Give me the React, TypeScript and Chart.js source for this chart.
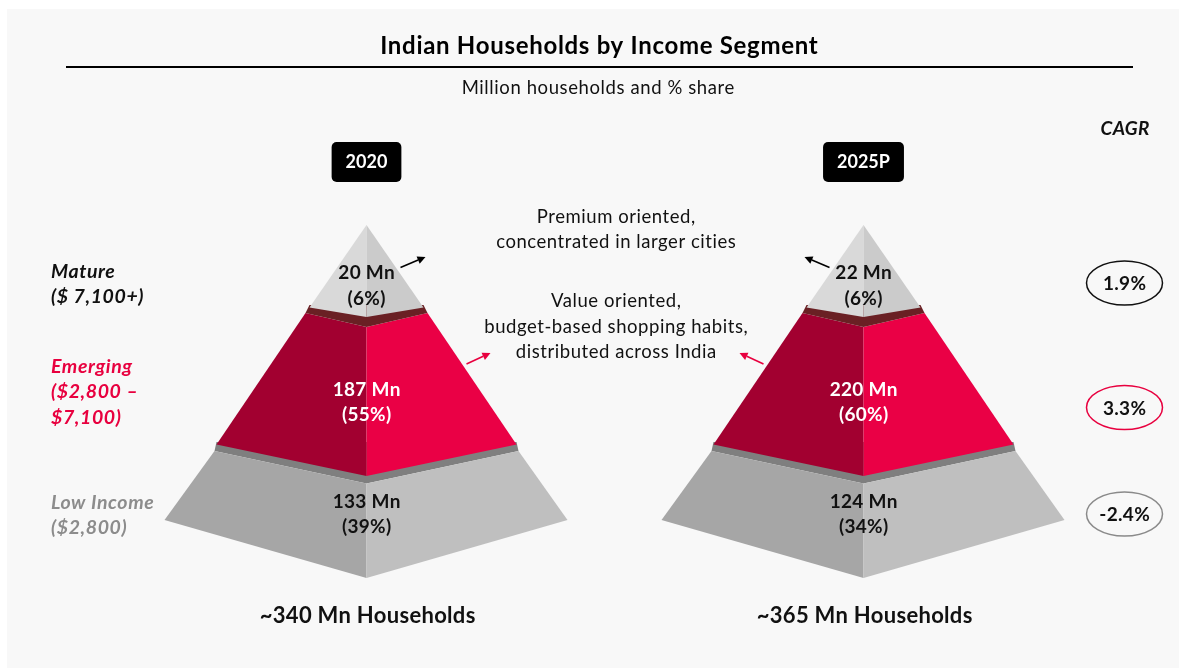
import React, { useEffect, useRef } from "react";
import { Chart, registerables } from "chart.js";

Chart.register(...registerables);

// ---------- data ----------
const years = ["2020", "2025P"];
const segments = ["Mature", "Emerging", "Low Income"];
const segmentRanges = [["($ 7,100+)"], ["($2,800 –", "$7,100)"], ["($2,800)"]];
const matureMn = [20, 22];
const emergingMn = [187, 220];
const lowIncomeMn = [133, 124];
const maturePct = [6, 6];
const emergingPct = [55, 60];
const lowIncomePct = [39, 34];
const totalMn = [340, 365];
const cagr = ["1.9%", "3.3%", "-2.4%"];
const premiumNote = ["Premium oriented,", "concentrated in larger cities"];
const valueNote = ["Value oriented,", "budget-based shopping habits,", "distributed across India"];

const FONT = "Lato, 'Open Sans', 'DejaVu Sans', sans-serif";
const RED = "#e8003f";
const GREY_TXT = "#8c8c8c";

type P = [number, number];
const TOP_L: P[] = [[0, 225], [-57, 307.5], [0, 317]];
const TOP_R: P[] = [[0, 225], [0, 317], [57, 307.5]];
const MID_BAND: P[] = [[-61, 313], [-57, 305], [57, 305], [61, 313], [0, 327]];
const MID_L: P[] = [[-61, 313], [0, 327], [0, 476], [-150, 444.5]];
const MID_R: P[] = [[0, 327], [61, 313], [150, 444.5], [0, 476]];
const LOW_BAND: P[] = [[-152, 451], [-150, 442], [150, 442], [152, 451], [0, 483.5]];
const LOW_L: P[] = [[-152, 451], [0, 483.5], [0, 578], [-202, 520]];
const LOW_R: P[] = [[0, 483.5], [152, 451], [201, 520], [0, 578]];

function poly(ctx: CanvasRenderingContext2D, cx: number, pts: P[], color: string) {
  ctx.beginPath();
  pts.forEach(([dx, y], i) => (i ? ctx.lineTo(cx + dx, y) : ctx.moveTo(cx + dx, y)));
  ctx.closePath();
  ctx.fillStyle = color;
  ctx.fill();
}

function arrow(ctx: CanvasRenderingContext2D, x1: number, y1: number, x2: number, y2: number, color: string) {
  const a = Math.atan2(y2 - y1, x2 - x1);
  const hl = 8, hw = 4;
  const bx = x2 - hl * Math.cos(a), by = y2 - hl * Math.sin(a);
  ctx.strokeStyle = color;
  ctx.fillStyle = color;
  ctx.lineWidth = 1.6;
  ctx.beginPath();
  ctx.moveTo(x1, y1);
  ctx.lineTo(bx, by);
  ctx.stroke();
  ctx.beginPath();
  ctx.moveTo(x2, y2);
  ctx.lineTo(bx + hw * Math.sin(a), by - hw * Math.cos(a));
  ctx.lineTo(bx - hw * Math.sin(a), by + hw * Math.cos(a));
  ctx.closePath();
  ctx.fill();
}

function text(
  ctx: CanvasRenderingContext2D,
  s: string,
  x: number,
  y: number,
  font: string,
  color: string,
  align: CanvasTextAlign = "center",
  spacing = 0
) {
  ctx.font = font;
  (ctx as any).letterSpacing = `${spacing}px`;
  ctx.fillStyle = color;
  ctx.textAlign = align;
  ctx.textBaseline = "middle";
  // compensate trailing letter spacing when centred
  const off = align === "center" ? spacing / 2 : 0;
  ctx.fillText(s, x + off, y);
  (ctx as any).letterSpacing = "0px";
}

const pyramidPlugin = {
  id: "pyramid",
  beforeDraw(chart: any) {
    const ctx: CanvasRenderingContext2D = chart.ctx;
    ctx.save();
    ctx.fillStyle = "#ffffff";
    ctx.fillRect(0, 0, chart.width, chart.height);
    ctx.fillStyle = "#f8f8f8";
    ctx.fillRect(7, 9, chart.width - 7, chart.height - 9);
    ctx.restore();
  },
  afterDraw(chart: any) {
    const ctx: CanvasRenderingContext2D = chart.ctx;
    const xs = chart.scales.x;
    const ds = chart.data.datasets;
    ctx.save();

    // title block
    text(ctx, "Indian Households by Income Segment", 599, 46, `bold 24px ${FONT}`, "#000", "center", 0.7);
    ctx.strokeStyle = "#000";
    ctx.lineWidth = 2;
    ctx.beginPath();
    ctx.moveTo(66, 67);
    ctx.lineTo(1133, 67);
    ctx.stroke();
    text(ctx, "Million households and % share", 598, 88, `18.5px ${FONT}`, "#111", "center", 0.6);

    years.forEach((yr, i) => {
      const cx = xs.getPixelForValue(i);
      const dir = i === 0 ? 1 : -1;
      // year box
      ctx.font = `bold 18px ${FONT}`;
      const w = ctx.measureText(yr).width + 28;
      ctx.fillStyle = "#000";
      ctx.beginPath();
      (ctx as any).roundRect(cx - w / 2, 142, w, 40, 5);
      ctx.fill();
      text(ctx, yr, cx, 162.5, `bold 18px ${FONT}`, "#fff");

      // pyramid faces
      poly(ctx, cx, LOW_BAND, "#7f7f7f");
      poly(ctx, cx, LOW_L, "#a6a6a6");
      poly(ctx, cx, LOW_R, "#bfbfbf");
      poly(ctx, cx, MID_L, "#a20030");
      poly(ctx, cx, MID_R, "#ea0045");
      poly(ctx, cx, MID_BAND, "#6a2024");
      poly(ctx, cx, TOP_L, "#d9d9d9");
      poly(ctx, cx, TOP_R, "#cbcbcb");

      const lf = `bold 19px ${FONT}`;
      const vals = ds.map((d: any) => d.data[i]);
      const pcts = [maturePct[i], emergingPct[i], lowIncomePct[i]];
      const rows = [
        [272.5, 298.5, "#111"],
        [389.5, 415, "#fff"],
        [502, 527, "#111"],
      ] as const;
      rows.forEach(([y1, y2, c], k) => {
        text(ctx, `${vals[k]} Mn`, cx, y1, lf, c as string, "center", 0.3);
        text(ctx, `(${pcts[k]}%)`, cx, y2, lf, c as string, "center", 0.3);
      });

      // arrows
      arrow(ctx, cx + dir * 34, 267.5, cx + dir * 59, 257, "#000");
      arrow(ctx, cx + dir * 100, 364, cx + dir * 124, 353, RED);

      // totals
      text(ctx, `~${totalMn[i]} Mn Households`, cx + 1, 616, `bold 22px ${FONT}`, "#111", "center", 0.3);
    });

    // center notes
    premiumNote.forEach((s, k) => text(ctx, s, 616, 217 + k * 25.5, `18.5px ${FONT}`, "#111", "center", 0.55));
    valueNote.forEach((s, k) => text(ctx, s, 616, 301.5 + k * 25.5, `18.5px ${FONT}`, "#111", "center", 0.55));

    // left segment labels
    const segColors = ["#111", RED, GREY_TXT];
    const segY = [272, 367, 503];
    segments.forEach((s, k) => {
      const f = `italic bold 19.5px ${FONT}`;
      text(ctx, s, 51, segY[k], f, segColors[k], "left", 0.6);
      segmentRanges[k].forEach((r, j) => text(ctx, r, 51, segY[k] + 25 + j * 26, f, segColors[k], "left", 0.6));
    });

    // CAGR
    text(ctx, "CAGR", 1125, 129, `italic bold 19px ${FONT}`, "#111", "center", 0.3);
    const ellY = [283, 407.5, 514];
    const ellC = ["#111", RED, "#8a8a8a"];
    cagr.forEach((c, k) => {
      ctx.beginPath();
      ctx.ellipse(1124.5, ellY[k], 38, 22, 0, 0, Math.PI * 2);
      ctx.lineWidth = 1.5;
      ctx.strokeStyle = ellC[k];
      ctx.stroke();
      text(ctx, c, 1124.5, ellY[k] + 1, `bold 19px ${FONT}`, "#111", "center", 0.3);
    });

    ctx.restore();
  },
};

export default function App() {
  const ref = useRef<HTMLCanvasElement>(null);
  useEffect(() => {
    const chart = new Chart(ref.current!, {
      type: "bar",
      data: {
        labels: years,
        datasets: [
          { label: segments[0], data: matureMn, backgroundColor: "rgba(0,0,0,0)" },
          { label: segments[1], data: emergingMn, backgroundColor: "rgba(0,0,0,0)" },
          { label: segments[2], data: lowIncomeMn, backgroundColor: "rgba(0,0,0,0)" },
        ],
      },
      options: {
        responsive: false,
        animation: false,
        devicePixelRatio: 1,
        layout: { padding: { left: 118, right: 67, top: 0, bottom: 0 } },
        plugins: { legend: { display: false }, tooltip: { enabled: false }, title: { display: false } },
        scales: {
          x: { display: false, offset: true },
          y: { display: false, beginAtZero: true },
        },
        events: [],
      },
      plugins: [pyramidPlugin],
    });
    return () => chart.destroy();
  }, []);
  return (
    <div style={{ position: "fixed", left: 0, top: 0, width: 1179, height: 668, background: "#fff" }}>
      <canvas ref={ref} width={1179} height={668} style={{ display: "block", width: 1179, height: 668 }} />
    </div>
  );
}
